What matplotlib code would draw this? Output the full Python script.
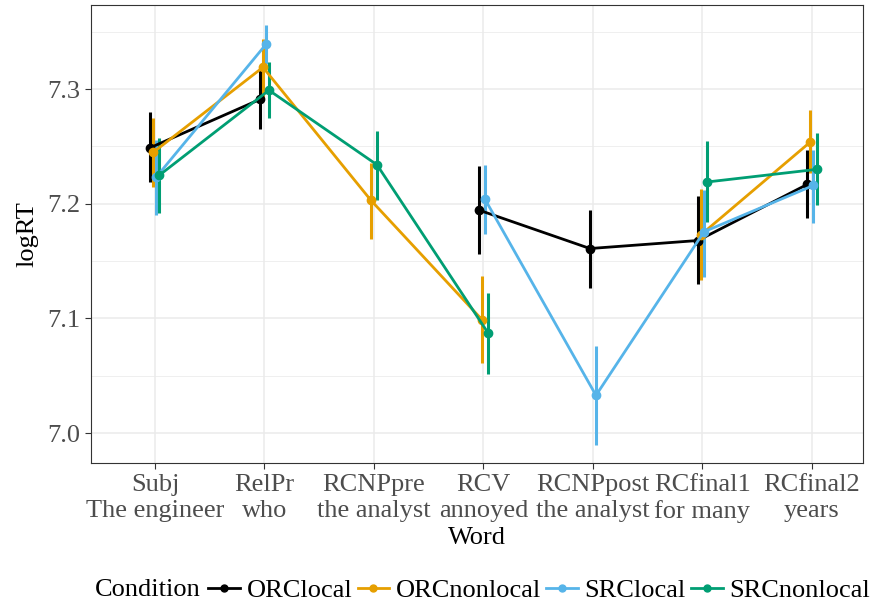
import numpy as np
import matplotlib.pyplot as plt
from matplotlib.lines import Line2D

plt.rcParams['font.family'] = ['Liberation Serif', 'DejaVu Serif']

regions = ['Subj\nThe engineer', 'RelPr\nwho', 'RCNPpre\nthe analyst', 'RCV\nannoyed',
           'RCNPpost\nthe analyst', 'RCfinal1\nfor many', 'RCfinal2\nyears']
conditions = ['ORClocal', 'ORCnonlocal', 'SRClocal', 'SRCnonlocal']
colors = ['#000000', '#E69F00', '#56B4E9', '#009E73']

nan = np.nan
# mean logRT per region, nan = region not measured for that condition
orc_local_mean = [7.249, 7.291, nan, 7.1945, 7.161, 7.168, 7.217]
orc_local_lo = [7.219, 7.265, nan, 7.156, 7.127, 7.130, 7.188]
orc_local_hi = [7.280, 7.3166, nan, 7.233, 7.195, 7.207, 7.2468]

orc_nonlocal_mean = [7.245, 7.319, 7.203, 7.099, nan, 7.173, 7.254]
orc_nonlocal_lo = [7.215, 7.292, 7.169, 7.061, nan, 7.1335, 7.227]
orc_nonlocal_hi = [7.275, 7.344, 7.236, 7.137, nan, 7.2125, 7.2817]

src_local_mean = [7.2235, 7.339, nan, 7.204, 7.033, 7.1756, 7.216]
src_local_lo = [7.190, 7.322, nan, 7.1736, 6.990, 7.1363, 7.1834]
src_local_hi = [7.256, 7.356, nan, 7.234, 7.076, 7.212, 7.247]

src_nonlocal_mean = [7.225, 7.299, 7.234, 7.0875, nan, 7.219, 7.230]
src_nonlocal_lo = [7.192, 7.275, 7.203, 7.052, nan, 7.1843, 7.199]
src_nonlocal_hi = [7.2575, 7.324, 7.2636, 7.122, nan, 7.2547, 7.2614]

means = [orc_local_mean, orc_nonlocal_mean, src_local_mean, src_nonlocal_mean]
los = [orc_local_lo, orc_nonlocal_lo, src_local_lo, src_nonlocal_lo]
his = [orc_local_hi, orc_nonlocal_hi, src_local_hi, src_nonlocal_hi]

# dodge like ggplot: spread only the groups present at each x
dodge_w = 0.11
xs = np.full((len(conditions), len(regions)), nan)
for j in range(len(regions)):
    present = [i for i in range(len(conditions)) if not np.isnan(means[i][j])]
    n = len(present)
    for k, i in enumerate(present):
        xs[i, j] = j + (k - (n - 1) / 2) * dodge_w / n

fig = plt.figure(figsize=(8.75, 6.04), dpi=100)
ax = fig.add_axes([0.104, 0.2334, 0.8823, 0.7583])

for i, cond in enumerate(conditions):
    m = np.array(means[i])
    ok = ~np.isnan(m)
    ax.vlines(xs[i][ok], np.array(los[i])[ok], np.array(his[i])[ok],
              color=colors[i], lw=2.2, zorder=3)
    # nan left in so the line breaks at missing regions
    ax.plot(xs[i], m, color=colors[i], lw=2.0, marker='o', ms=6, zorder=4)

ax.set_xlim(-0.584, 6.466)
ax.set_ylim(6.974, 7.3733)
ax.set_xticks(range(len(regions)))
ax.set_xticklabels(regions)
ax.set_yticks([7.0, 7.1, 7.2, 7.3])
ax.set_yticklabels(['7.0', '7.1', '7.2', '7.3'])
ax.set_yticks([7.05, 7.15, 7.25, 7.35], minor=True)
ax.grid(True, which='major', color='#EBEBEB', lw=1.1)
ax.grid(True, which='minor', axis='y', color='#EBEBEB', lw=0.55)
ax.set_axisbelow(True)
for s in ax.spines.values():
    s.set_color('#333333')
    s.set_linewidth(0.8)
ax.tick_params(which='major', length=4, color='#333333', labelsize=19,
               labelcolor='#4D4D4D', pad=4)
ax.tick_params(which='minor', length=0)
ax.set_xlabel('Word', fontsize=19, labelpad=3)
ax.set_ylabel('logRT', fontsize=19, labelpad=6)

handles = [Line2D([], [], color=c, lw=2.0, marker='o', ms=5) for c in colors]
fig.text(0.109, 0.023, 'Condition', fontsize=19, va='center', ha='left')
fig.legend(handles, conditions, loc='center left', bbox_to_anchor=(0.238, 0.023),
           ncol=4, frameon=False, fontsize=19, handlelength=1.2, handletextpad=0.25,
           columnspacing=0.2, borderaxespad=0, borderpad=0)

fig.savefig('out.png', dpi=100)
